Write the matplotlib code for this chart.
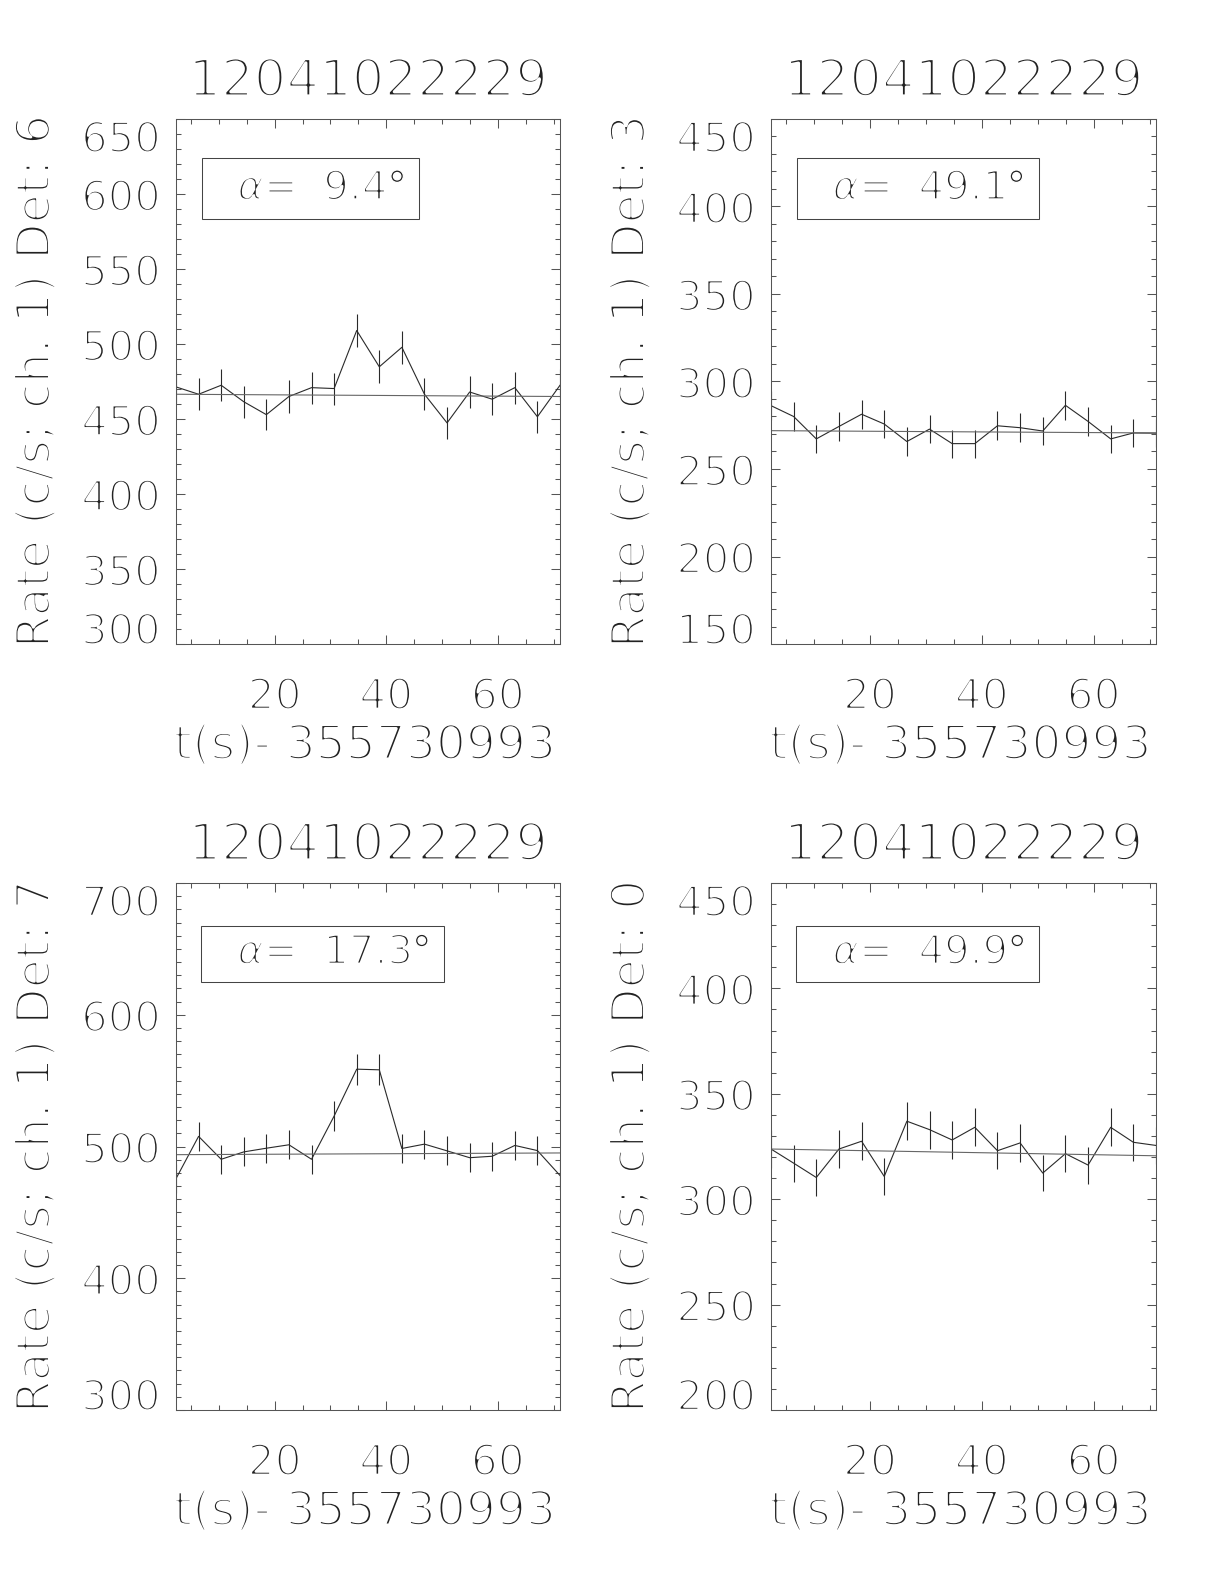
import matplotlib
matplotlib.use('Agg')
import matplotlib.pyplot as plt
import matplotlib.patheffects as pe
from matplotlib.patches import Rectangle
from matplotlib.ticker import FixedLocator, MultipleLocator

# time bins (s) relative to 355730993
t_bins = [2.3, 6.35, 10.4, 14.45, 18.5, 22.55, 26.6, 30.65, 34.7, 38.75,
          42.8, 46.85, 50.9, 54.95, 59.0, 63.05, 67.1, 71.15]

trigger = '12041022229'
detectors = [6, 3, 7, 0]
angles = ['9.4', '49.1', '17.3', '49.9']

rate_det6 = [471.4, 466.5, 472.5, 461.5, 452.9, 465.0, 470.9, 470.3, 509.0,
             484.8, 497.8, 466.5, 447.4, 468.0, 463.2, 470.9, 451.5, 472.5]
err_det6 = [10.7, 10.7, 10.7, 10.6, 10.5, 10.7, 10.7, 10.7, 11.2,
            10.9, 11.0, 10.7, 10.5, 10.7, 10.6, 10.7, 10.5, 10.7]
bkg_det6 = [466.5, 465.0]

rate_det3 = [286.2, 280.0, 267.2, 274.3, 281.3, 275.7, 265.7, 272.8, 264.5,
             264.5, 274.7, 273.6, 271.7, 286.4, 277.2, 267.2, 270.6, 270.5]
err_det3 = [8.4, 8.3, 8.1, 8.2, 8.3, 8.2, 8.1, 8.2, 8.0,
            8.0, 8.2, 8.2, 8.1, 8.4, 8.2, 8.1, 8.1, 8.1]
bkg_det3 = [271.9, 270.6]

rate_det7 = [475.6, 507.7, 490.3, 495.9, 498.7, 501.3, 490.3, 523.1, 558.7,
             558.2, 498.5, 501.8, 496.7, 491.5, 492.6, 500.8, 496.9, 478.0]
err_det7 = [10.8, 11.1, 10.9, 11.0, 11.0, 11.1, 10.9, 11.3, 11.7,
            11.7, 11.0, 11.1, 11.0, 11.0, 11.0, 11.1, 11.0, 10.8]
bkg_det7 = [493.8, 495.1]

rate_det0 = [323.8, 317.1, 310.3, 323.8, 327.5, 310.8, 337.0, 333.0, 328.1,
             334.1, 323.0, 326.7, 312.4, 321.6, 316.2, 334.1, 327.0, 325.5]
err_det0 = [8.9, 8.8, 8.7, 8.9, 8.9, 8.7, 9.1, 9.0, 9.0,
            9.0, 8.9, 8.9, 8.7, 8.9, 8.8, 9.0, 8.9, 8.9]
bkg_det0 = [323.8, 320.6]

rates = [rate_det6, rate_det3, rate_det7, rate_det0]
errors = [err_det6, err_det3, err_det7, err_det0]
backgrounds = [bkg_det6, bkg_det3, bkg_det7, bkg_det0]

y_ticks = [[300, 350, 400, 450, 500, 550, 600, 650],
           [150, 200, 250, 300, 350, 400, 450],
           [300, 400, 500, 600, 700],
           [200, 250, 300, 350, 400, 450]]
x_ticks = [20, 40, 60]

W, H = 1224, 1584
# frames in pixels: left, top, right, bottom
FRAMES = [(176, 119, 560, 644), (771, 119, 1156, 644),
          (176, 883, 560, 1410), (771, 883, 1156, 1410)]

TXT = '#222222'
LINE = '#2a2a2a'
BKG = '#666666'
SPINE = '#555555'
TICK = '#555555'

plt.rcParams['font.family'] = ['DejaVu Sans']
plt.rcParams['mathtext.fontset'] = 'dejavusans'


def thin(fs):
    # erode the glyphs with a white outline so they look like vector strokes
    return [pe.Stroke(linewidth=0.063 * fs, foreground='white', joinstyle='round')]


def draw_panel(fig, i):
    l, t, r, b = FRAMES[i]
    ax = fig.add_axes([l / W, 1 - b / H, (r - l) / W, (b - t) / H])
    ax.plot(t_bins, rates[i], color=LINE, lw=0.8)
    ax.errorbar(t_bins, rates[i], yerr=errors[i], fmt='none', ecolor=LINE,
                elinewidth=0.8, capsize=0)
    ax.plot([t_bins[0], t_bins[-1]], backgrounds[i], color=BKG, lw=0.8)

    ax.set_xlim(t_bins[0], t_bins[-1])
    ax.set_ylim(y_ticks[i][0], y_ticks[i][-1])
    ax.xaxis.set_major_locator(FixedLocator(x_ticks))
    ax.xaxis.set_minor_locator(MultipleLocator(5))
    ax.yaxis.set_major_locator(FixedLocator(y_ticks[i]))
    ax.yaxis.set_minor_locator(MultipleLocator(10))
    ax.tick_params(which='both', direction='in', top=True, right=True,
                   color=TICK, width=0.75)
    ax.tick_params(which='major', length=6.5)
    ax.tick_params(which='minor', length=3.6)
    ax.tick_params(axis='x', pad=23, labelsize=30.5, labelcolor=TXT)
    ax.tick_params(axis='y', pad=11, labelsize=30, labelcolor=TXT)
    for sp in ax.spines.values():
        sp.set_color(SPINE)
        sp.set_linewidth(0.75)

    ax.annotate(trigger, xy=(0.5, 1), xycoords='axes fraction', xytext=(0, 23),
                textcoords='offset pixels', ha='center', va='baseline',
                fontsize=37, color=TXT, path_effects=thin(37))
    ax.annotate('Rate (c/s; ch. 1) Det: %d' % detectors[i], xy=(0, 0.5),
                xycoords='axes fraction', xytext=(-139, 0), textcoords='offset pixels',
                rotation=90, ha='center', va='center', fontsize=34, color=TXT,
                path_effects=thin(34))
    ax.annotate('t(s)- 355730993', xy=(0.5, 0), xycoords='axes fraction',
                xytext=(-3, -115), textcoords='offset pixels', ha='center',
                va='baseline', fontsize=34, color=TXT, path_effects=thin(34))

    txt = ax.text(0.160, 0.846, r'$\alpha$=  ' + angles[i], transform=ax.transAxes,
                  ha='left', va='baseline', fontsize=29, color=TXT,
                  path_effects=thin(29))
    return ax, txt


def finish(fig, ax, txt, i):
    renderer = fig.canvas.get_renderer()
    bb = txt.get_window_extent(renderer)
    # degree sign drawn on its own, with lighter erosion so the ring survives
    deg = ax.annotate('°', xy=(0.160, 0.846), xycoords='axes fraction',
                      xytext=(bb.width, 0), textcoords='offset pixels',
                      ha='left', va='baseline', fontsize=29, color=TXT,
                      path_effects=thin(14))
    dbb = deg.get_window_extent(renderer)
    x_right = ax.transAxes.inverted().transform((dbb.x1 + 12, 0))[0]
    if i < 2:
        x0, y0, y1 = 0.067, 0.81, 0.926
    else:
        x0, y0, y1 = 0.064, 0.813, 0.918
    ax.add_patch(Rectangle((x0, y0), x_right - x0, y1 - y0, transform=ax.transAxes,
                           fill=False, ec='#444444', lw=0.75))
    for lbl in ax.get_xticklabels() + ax.get_yticklabels():
        lbl.set_path_effects(thin(30))
    ticks = ax.yaxis.get_major_ticks()
    ticks[0].label1.set_va('baseline')
    ticks[-1].label1.set_va('top')


if __name__ == "__main__":
    fig = plt.figure(figsize=(W / 100, H / 100), dpi=100)
    panels = [draw_panel(fig, i) for i in range(4)]
    fig.canvas.draw()
    for i, (ax, txt) in enumerate(panels):
        finish(fig, ax, txt, i)
    fig.savefig('out.png', dpi=100)
